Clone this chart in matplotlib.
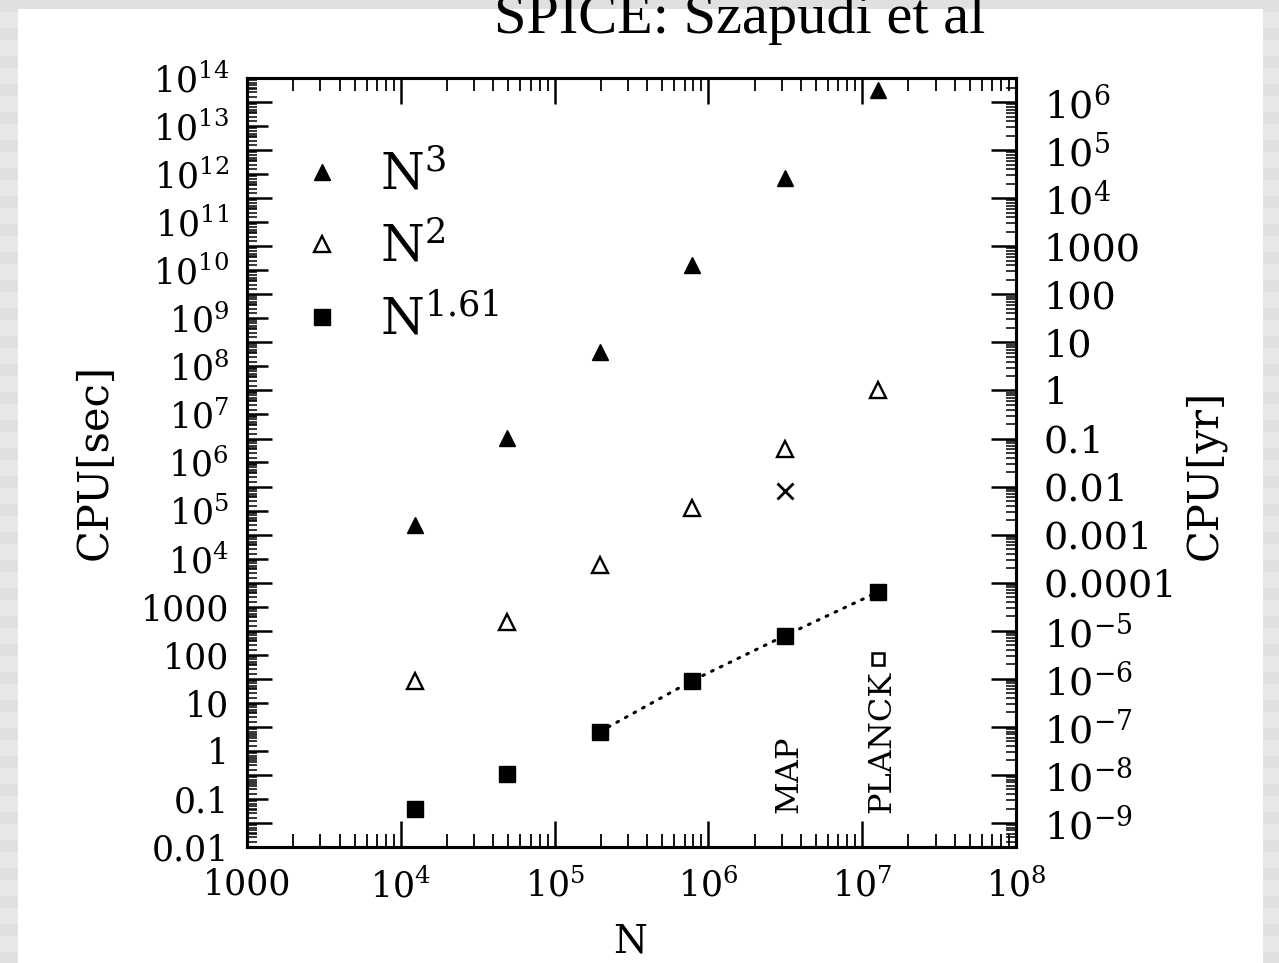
"""CPU vrijeme SPICE metode u ovisnosti o broju piksela N (sec lijevo, godine desno)."""

import numpy as np
import matplotlib
matplotlib.use("Agg")
import matplotlib.pyplot as plt
from matplotlib.patches import Rectangle
from matplotlib.ticker import FixedLocator, FixedFormatter, LogLocator, NullFormatter

plt.rcParams["font.family"] = ["DejaVu Serif"]
plt.rcParams["mathtext.fontset"] = "dejavuserif"

# broj piksela (HEALPix) i CPU vrijeme u sekundama
n_pix = [12288, 49152, 196608, 786432, 3145728, 12582912]
t_n3 = [5.0e4, 3.2e6, 2.0e8, 1.3e10, 8.5e11, 5.5e13]
t_n2 = [29, 470, 7.5e3, 1.15e5, 1.95e6, 3.2e7]
t_n161 = [0.062, 0.33, 2.5, 29, 250, 2000]

# posebne tocke: MAP (x) i PLANCK (prazan kvadrat)
n_map, t_map = 3145728, 2.6e5
n_planck, t_planck = 12582912, 83

SEC_PER_YR = 3.156e7

x_ticks = [1e3, 1e4, 1e5, 1e6, 1e7, 1e8]
x_labels = ["1000", r"$10^{4}$", r"$10^{5}$", r"$10^{6}$", r"$10^{7}$", r"$10^{8}$"]
y_ticks = [10.0 ** k for k in range(-2, 15)]
y_labels = ["0.01", "0.1", "1", "10", "100", "1000"] + [r"$10^{%d}$" % k for k in range(4, 15)]
yr_ticks = [10.0 ** k for k in range(-9, 7)]
yr_labels = ([r"$10^{%d}$" % k for k in range(-9, -4)]
             + ["0.0001", "0.001", "0.01", "0.1", "1", "10", "100", "1000"]
             + [r"$10^{%d}$" % k for k in range(4, 7)])

W, H = 1279, 963
fig = plt.figure(figsize=(W / 100, H / 100), dpi=100, facecolor="#e6e8e6")

# pozadina slajda: blage sive pruge + bijeli panel
for i in range(0, H, 28):
    fig.patches.append(Rectangle((0, 1 - (i + 12) / H), 1, 12 / H, transform=fig.transFigure,
                                 facecolor="#dfe1df", edgecolor="none", zorder=-3))
fig.patches.append(Rectangle((18 / W, 0), (1263 - 18) / W, (H - 9) / H, transform=fig.transFigure,
                             facecolor="white", edgecolor="none", zorder=-2))

fig.text(740 / W, 1 - 33 / H, "SPICE: Szapudi et al", family="Liberation Serif",
         fontsize=42, ha="center", va="baseline")

ax = fig.add_axes([247 / W, 1 - 847 / H, 769 / W, 769 / H])
ax.set_xscale("log")
ax.set_yscale("log")
ax.set_xlim(1e3, 1e8)
ax.set_ylim(1e-2, 1e14)

ax.plot(n_pix, t_n3, ls="none", marker="^", ms=12, color="black", label=r"$\mathrm{N}^{3}$")
ax.plot(n_pix, t_n2, ls="none", marker="^", ms=11, mfc="white", mec="black", mew=1.7,
        label=r"$\mathrm{N}^{2}$")
ax.plot(n_pix, t_n161, ls="none", marker="s", ms=11, color="black", label=r"$\mathrm{N}^{1.61}$")
ax.plot(n_pix[2:], t_n161[2:], ls=(0, (0.6, 2.6)), lw=2.2, color="black",
        dash_capstyle="round")
ax.plot([n_map], [t_map], ls="none", marker="x", ms=11, mew=2.0, color="black")
ax.plot([n_planck], [t_planck], ls="none", marker="s", ms=8.5, mfc="white", mec="black", mew=1.8)

ax.annotate("MAP", (n_map, 0.05), xytext=(3, 0), textcoords="offset points",
            rotation=90, ha="center", va="bottom", fontsize=23)
ax.annotate("PLANCK", (n_planck, 0.05), xytext=(3, 0), textcoords="offset points",
            rotation=90, ha="center", va="bottom", fontsize=23)

ax.legend(loc="upper left", bbox_to_anchor=(0.065, 0.905), frameon=False, fontsize=36,
          handlelength=1.0, handletextpad=0.66, labelspacing=0.46, borderpad=0,
          borderaxespad=0)

# osi: x
ax.xaxis.set_major_locator(FixedLocator(x_ticks))
ax.xaxis.set_major_formatter(FixedFormatter(x_labels))
ax.xaxis.set_minor_locator(LogLocator(base=10, subs=np.arange(2, 10), numticks=100))
ax.xaxis.set_minor_formatter(NullFormatter())
ax.tick_params(axis="x", which="both", direction="in", top=True, bottom=True, labelsize=25, pad=15)
ax.tick_params(axis="x", which="major", length=19, width=1.8)
ax.tick_params(axis="x", which="minor", length=9.5, width=1.3)

# osi: y (sekunde)
ax.yaxis.set_major_locator(FixedLocator(y_ticks))
ax.yaxis.set_major_formatter(FixedFormatter(y_labels))
ax.yaxis.set_minor_locator(LogLocator(base=10, subs=np.arange(2, 10), numticks=100))
ax.yaxis.set_minor_formatter(NullFormatter())
ax.tick_params(axis="y", which="both", direction="in", left=True, right=False, labelsize=25, pad=13)
ax.tick_params(axis="y", which="major", length=15, width=1.8)
ax.tick_params(axis="y", which="minor", length=7, width=1.1)

for s in ax.spines.values():
    s.set_linewidth(2.2)

# desna os: godine
ax2 = ax.twinx()
ax2.set_yscale("log")
ax2.set_ylim(1e-2 / SEC_PER_YR, 1e14 / SEC_PER_YR)
ax2.yaxis.set_major_locator(FixedLocator(yr_ticks))
ax2.yaxis.set_major_formatter(FixedFormatter(yr_labels))
ax2.yaxis.set_minor_locator(LogLocator(base=10, subs=np.arange(2, 10), numticks=100))
ax2.yaxis.set_minor_formatter(NullFormatter())
ax2.tick_params(axis="y", which="both", direction="in", left=True, right=True,
                labelleft=False, labelright=True, labelsize=27.5, pad=20)
ax2.tick_params(axis="y", which="major", length=18, width=1.8)
ax2.tick_params(axis="y", which="minor", length=7, width=1.1)
for s in ax2.spines.values():
    s.set_linewidth(2.2)

ax.text((95 - 247) / 769, (847 - 462) / 769, "CPU[sec]", transform=ax.transAxes,
        rotation=90, ha="center", va="center", fontsize=30)
ax.text((1205 - 247) / 769, (847 - 475) / 769, "CPU[yr]", transform=ax.transAxes,
        rotation=90, ha="center", va="center", fontsize=30)
ax.text((630 - 247) / 769, (847 - 942) / 769, "N", transform=ax.transAxes,
        ha="center", va="center", fontsize=28)

plt.savefig("out.png", dpi=100, facecolor=fig.get_facecolor())
plt.close()
